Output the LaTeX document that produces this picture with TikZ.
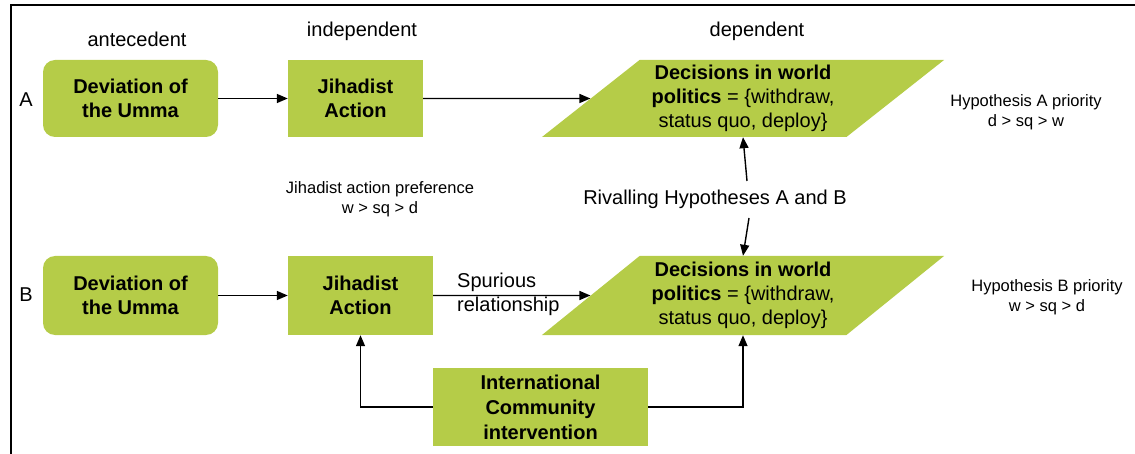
\documentclass[tikz,border=0pt]{standalone}
\usepackage{fontspec}
\setmainfont{Liberation Sans}
\usetikzlibrary{shapes.geometric,arrows.meta}
\definecolor{boxgreen}{RGB}{181,204,72}
\begin{document}
\begin{tikzpicture}[x=1pt,y=-1pt,
  gbox/.style={fill=boxgreen, draw=none, align=center, inner sep=0pt,
    font=\fontsize{20}{24}\selectfont\bfseries},
  pbox/.style={fill=boxgreen, draw=none, align=center, inner sep=0pt,
    shape=trapezium, trapezium left angle=37.7, trapezium right angle=142.3,
    trapezium stretches=true, minimum width=403pt,
    font=\fontsize{20}{24}\selectfont},
  arr/.style={-{Triangle[length=11pt,width=9pt]}, line width=1.4pt},
  lbl/.style={align=center, inner sep=0pt, font=\fontsize{20}{24}\selectfont},
  small/.style={align=center, inner sep=0pt, font=\fontsize{16.5}{20}\selectfont}
]
\useasboundingbox (0,0) rectangle (1135,454);
\draw[line width=2.5pt] (11,454) -- (11,5) -- (1135,5);

% column headings
\node[lbl] (hant) at (137,39) {antecedent};
\node[lbl] (hind) at (362,31) {independent};
\node[lbl] (hdep) at (757,31) {dependent};

% row labels
\node[lbl] (rowA) at (26,100) {A};
\node[lbl] (rowB) at (26,295) {B};

% row A
\node[gbox, rounded corners=12pt, minimum width=175pt, minimum height=77pt] (devA) at (130.5,98.5) {Deviation of\\the Umma};
\node[gbox, minimum width=135pt, minimum height=77pt] (jA) at (355.5,98.5) {Jihadist\\Action};
\node[pbox, minimum height=77pt] (decA) at (743,98.5) {\textbf{Decisions in world}\\\textbf{politics} = \{withdraw,\\status quo, deploy\}};

% row B
\node[gbox, rounded corners=12pt, minimum width=175pt, minimum height=79pt] (devB) at (130.5,295.5) {Deviation of\\the Umma};
\node[gbox, minimum width=145pt, minimum height=79pt] (jB) at (360.5,295.5) {Jihadist\\Action};
\node[pbox, minimum height=79pt] (decB) at (743,295.5) {\textbf{Decisions in world}\\\textbf{politics} = \{withdraw,\\status quo, deploy\}};
\node[gbox, minimum width=215pt, minimum height=78pt, font=\fontsize{20}{25}\selectfont\bfseries] (intl) at (540.5,407) {International\\Community\\intervention};

% text labels
\node[small] (hypA) at (1026,112) {Hypothesis A priority\\d > sq > w};
\node[small] (hypB) at (1047,297) {Hypothesis B priority\\w > sq > d};
\node[small] (pref) at (380,199) {Jihadist action preference\\w > sq > d};
\node[lbl] (riv) at (715,199) {Rivalling Hypotheses A and B};
\node[lbl, align=left, anchor=west] (spur) at (457,294.5) {Spurious\\relationship};

\coordinate (rivtop) at (747,181);
\coordinate (rivbot) at (749,218);

% connectors
\draw[arr] (devA) -- (jA);
\draw[arr] (jA) -- (decA);
\draw[arr] (devB) -- (jB);
\draw[arr] (jB) -- (decB);
\draw[arr] (rivtop) -- (decA.center |- decA.south);
\draw[arr] (rivbot) -- (decB.center |- decB.north);
\draw[arr] (intl.west) -| (jB.south);
\draw[arr] (intl.east) -| (decB.center |- decB.south);
\end{tikzpicture}
\end{document}
